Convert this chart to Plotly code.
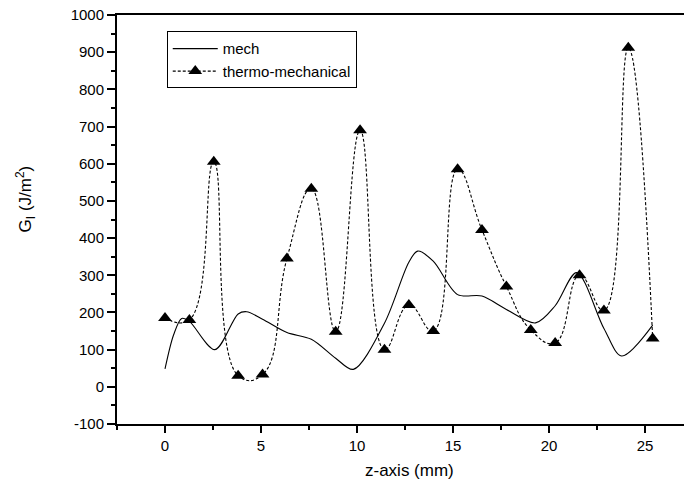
import plotly.graph_objects as go

# data
z_mm = [0, 1.27, 2.54, 3.81, 5.08, 6.35, 7.62, 8.89, 10.16, 11.43, 12.7,
        13.97, 15.24, 16.51, 17.78, 19.05, 20.32, 21.59, 22.86, 24.13, 25.4]
thermo = [185, 180, 605, 30, 33, 345, 533, 148, 690, 100, 220,
          150, 585, 422, 270, 153, 118, 300, 205, 912, 130]

mech_z = [0, 0.45, 0.87, 1.27, 2.6, 3.81, 4.25, 5.08, 6.35, 7.62, 8.89, 9.81,
          11.43, 12.7, 13.16, 13.97, 15.24, 16.51, 17.78, 19.3, 20.32, 21.44,
          22.86, 23.78, 25.4]
mech = [48, 140, 184, 176, 100, 196, 202, 182, 146, 128, 77, 47,
        171, 335, 365, 338, 248, 244, 208, 172, 218, 307,
        157, 83, 166]

x_ticks = [0, 5, 10, 15, 20, 25]
y_ticks = [-100, 0, 100, 200, 300, 400, 500, 600, 700, 800, 900, 1000]

FONT = "Liberation Sans, Arial, sans-serif"

fig = go.Figure()
fig.add_trace(go.Scatter(
    x=mech_z, y=mech, name="mech", mode="lines",
    line=dict(color="black", width=1.1, shape="spline", smoothing=0.9),
))
fig.add_trace(go.Scatter(
    x=z_mm, y=thermo, name="thermo-mechanical", mode="lines+markers",
    line=dict(color="black", width=1.1, dash="3px,2px", shape="spline", smoothing=1.3),
    marker=dict(symbol="triangle-up", size=12, color="black"),
))

fig.update_layout(
    width=720, height=485,
    margin=dict(l=117, r=0, t=15, b=61),
    paper_bgcolor="white", plot_bgcolor="white",
    font=dict(family=FONT, size=15, color="black"),
    showlegend=True,
    legend=dict(
        x=0.0825, y=0.96, xanchor="left", yanchor="top",
        bordercolor="black", borderwidth=1, bgcolor="white",
        font=dict(family=FONT, size=15, color="black"),
        tracegroupgap=0, itemwidth=45,
    ),
    xaxis=dict(
        range=[-2.5, 28.906], tickvals=x_ticks, ticktext=[str(v) for v in x_ticks],
        showgrid=False, zeroline=False, showline=True, linecolor="black", linewidth=2,
        mirror=True, ticks="outside", ticklen=7, tickwidth=1.5, tickcolor="black",
        minor=dict(dtick=2.5, tick0=0, ticks="outside", ticklen=4, tickwidth=1.5, tickcolor="black"),
        tickfont=dict(family=FONT, size=15),
        title=dict(text="", standoff=14),
    ),
    yaxis=dict(
        range=[-100, 1000], tickvals=y_ticks, ticktext=[str(v) for v in y_ticks],
        showgrid=False, zeroline=False, showline=True, linecolor="black", linewidth=2,
        mirror=False, ticks="outside", ticklen=8, tickwidth=1.5, tickcolor="black",
        minor=dict(dtick=50, tick0=0, ticks="outside", ticklen=4, tickwidth=1.5, tickcolor="black"),
        tickfont=dict(family=FONT, size=15),
    ),
    annotations=[
        dict(
            text="G<sub>I</sub> (J/m<sup>2</sup>)", textangle=-90,
            xref="paper", yref="paper", x=-0.152, y=0.55, xanchor="center", yanchor="middle",
            showarrow=False, font=dict(family=FONT, size=17, color="black"),
        ),
        dict(
            text="z-axis (mm)", xref="x", yref="paper", x=12.75, y=-0.113,
            xanchor="center", yanchor="middle", showarrow=False,
            font=dict(family=FONT, size=17, color="black"),
        ),
    ],
)

fig.write_html(
    "out.html",
    config={"displayModeBar": False},
    post_script="document.body.style.margin='0px';document.body.style.overflow='hidden';",
)
